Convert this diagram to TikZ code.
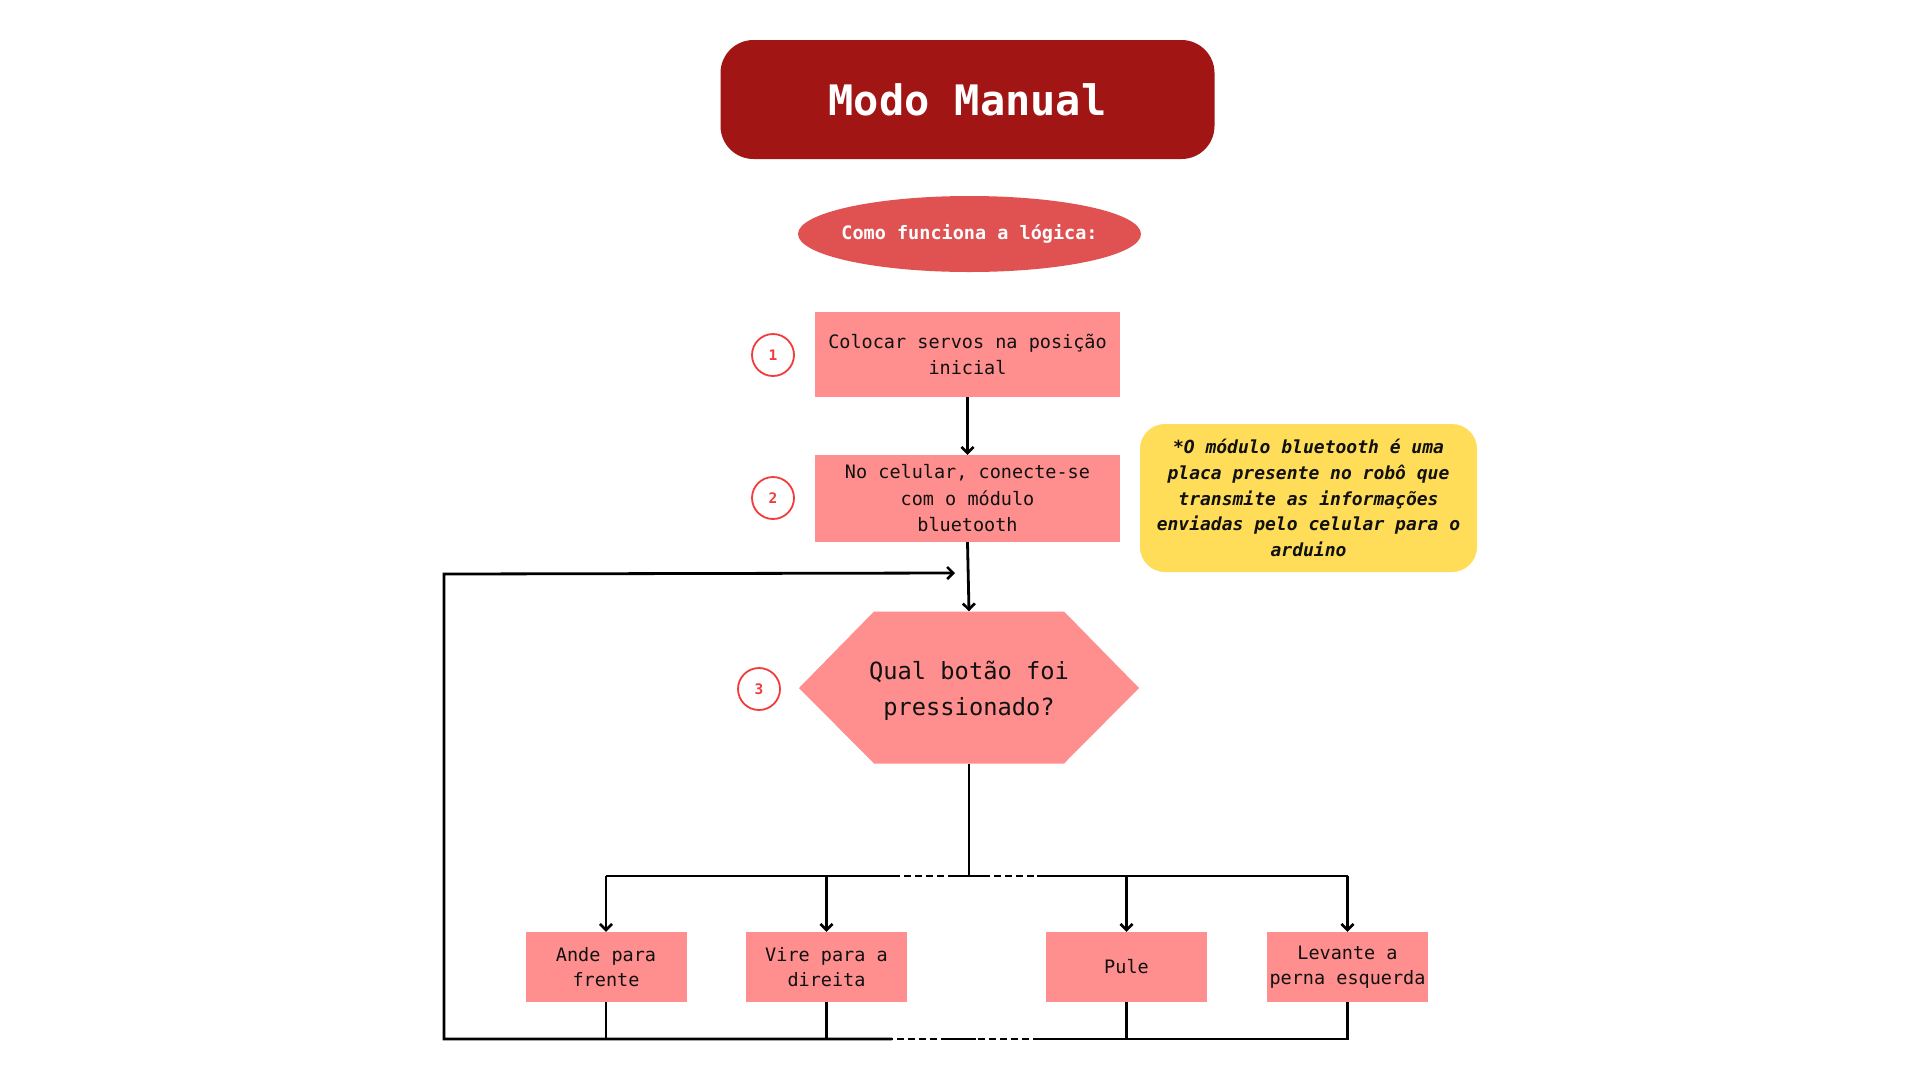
\documentclass[tikz,border=0pt]{standalone}
\usepackage{fontspec}
\usetikzlibrary{shapes.geometric,arrows.meta}
\newfontfamily\mono{DejaVu Sans Mono}
\definecolor{titlered}{HTML}{A11515}
\definecolor{ellred}{HTML}{E05252}
\definecolor{boxpink}{HTML}{FF8E8E}
\definecolor{notey}{HTML}{FFDD59}
\definecolor{numred}{HTML}{F23B3B}
\definecolor{inkc}{HTML}{111111}
\tikzset{
  pinkbox/.style={rectangle, fill=boxpink, inner sep=0pt, align=center, text=inkc,
    font=\mono\fontsize{18.5}{26.5}\selectfont},
  smallbox/.style={pinkbox, minimum width=161pt, minimum height=70pt,
    font=\mono\fontsize{18.5}{25.5}\selectfont},
  numcirc/.style={circle, draw=numred, line width=1.8pt, fill=white, minimum size=42pt,
    inner sep=0pt, text=numred, font=\mono\bfseries\fontsize{14.5}{14.5}\selectfont},
  conn/.style={line width=2.8pt, draw=black},
  arr/.style={conn, -{Straight Barb[length=6pt,width=12pt,line width=2.6pt]}},
  dsh/.style={conn, dash pattern=on 7pt off 4pt}
}
\begin{document}
\begin{tikzpicture}[x=1pt,y=-1pt]
\useasboundingbox[fill=white] (0,0) rectangle (1920,1080);

% title
\node[rectangle, rounded corners=33pt, fill=titlered, minimum width=494pt, minimum height=119pt,
  inner sep=0pt, text=white, font=\mono\bfseries\fontsize{42}{42}\selectfont]
  (title) at (967.5,99.5) {Modo Manual};

% ellipse
\fill[ellred] (969.5,234) ellipse [x radius=171.5pt, y radius=38pt];
\node[inner sep=0pt, text=white, font=\mono\bfseries\fontsize{18.5}{18.5}\selectfont]
  (logic) at (969.5,234) {Como funciona a lógica:};

% step boxes
\node[pinkbox, minimum width=305pt, minimum height=85pt] (b1) at (967.5,354.5)
  {Colocar servos na posição\\inicial};
\node[pinkbox, minimum width=305pt, minimum height=87pt] (b2) at (967.5,498.5)
  {No celular, conecte-se\\com o módulo\\bluetooth};

% number circles
\node[numcirc] (n1) at (773,355) {1};
\node[numcirc] (n2) at (773,498) {2};
\node[numcirc] (n3) at (759,689) {3};

% note
\node[rectangle, rounded corners=25pt, fill=notey, minimum width=337pt, minimum height=148pt,
  inner sep=0pt, align=center, text=inkc,
  font=\mono\bfseries\itshape\fontsize{18}{25.7}\selectfont]
  (note) at (1308.5,498)
  {*O módulo bluetooth é uma\\placa presente no robô que\\transmite as informações\\enviadas pelo celular para o\\arduino};

% hexagon
\fill[boxpink] (799,688) -- (874,611.5) -- (1064,611.5) -- (1139,688) -- (1064,763.5) -- (874,763.5) -- cycle;
\node[rectangle, minimum width=340pt, minimum height=152pt, inner sep=0pt, align=center,
  text=inkc, font=\mono\fontsize{23.7}{35.7}\selectfont]
  (hex) at (969,687.5) {};
\node[inner sep=0pt, align=center, text=inkc, font=\mono\fontsize{23.7}{35.7}\selectfont]
  (hextext) at (969,691) {Qual botão foi\\pressionado?};

% bottom boxes
\node[smallbox] (bA) at (606,967) {Ande para\\frente};
\node[smallbox] (bB) at (826.5,967) {Vire para a\\direita};
\node[smallbox] (bC) at (1126.5,967) {Pule};
\node[smallbox] (bD) at (1347.5,967) {Levante a\\perna esquerda};

% connectors top
\draw[arr] (b1.south) -- (b2.north);
\draw[arr] (b2.south) -- (hex.north);

% branch
\coordinate (jt) at (969,876);
\draw[conn] (hex.south) -- (jt);
\coordinate (tL) at (bA.north |- jt);
\coordinate (tR) at (bD.north |- jt);
\coordinate (td1) at (893,876);
\coordinate (td2) at (955,876);
\coordinate (td3) at (983,876);
\coordinate (td4) at (1037,876);
\draw[conn] (td1) -- (tL);
\draw[dsh] (td1) -- (td2);
\draw[conn] (td2) -- (td3);
\draw[dsh] (td3) -- (td4);
\draw[conn] (td4) -- (tR);
\draw[arr] (tL) -- (bA.north);
\draw[arr] (bB.north |- jt) -- (bB.north);
\draw[arr] (bC.north |- jt) -- (bC.north);
\draw[arr] (tR) -- (bD.north);

% return loop
\coordinate (bl) at (444,1039);
\coordinate (tl) at (444,574);
\coordinate (loopend) at (955,573);
\coordinate (bd1) at (892,1039);
\coordinate (bd2) at (948,1039);
\coordinate (bd3) at (976,1039);
\coordinate (bd4) at (1040,1039);
\draw[conn] (bA.south) -- (bA.south |- bl);
\draw[conn] (bB.south) -- (bB.south |- bl);
\draw[conn] (bC.south) -- (bC.south |- bl);
\draw[conn] (bD.south) -- (bD.south |- bl) -- (bd4);
\draw[dsh] (bd4) -- (bd3);
\draw[conn] (bd3) -- (bd2);
\draw[dsh] (bd2) -- (bd1);
\draw[arr] (bd1) -- (bl) -- (tl) -- (loopend);
\end{tikzpicture}
\end{document}
